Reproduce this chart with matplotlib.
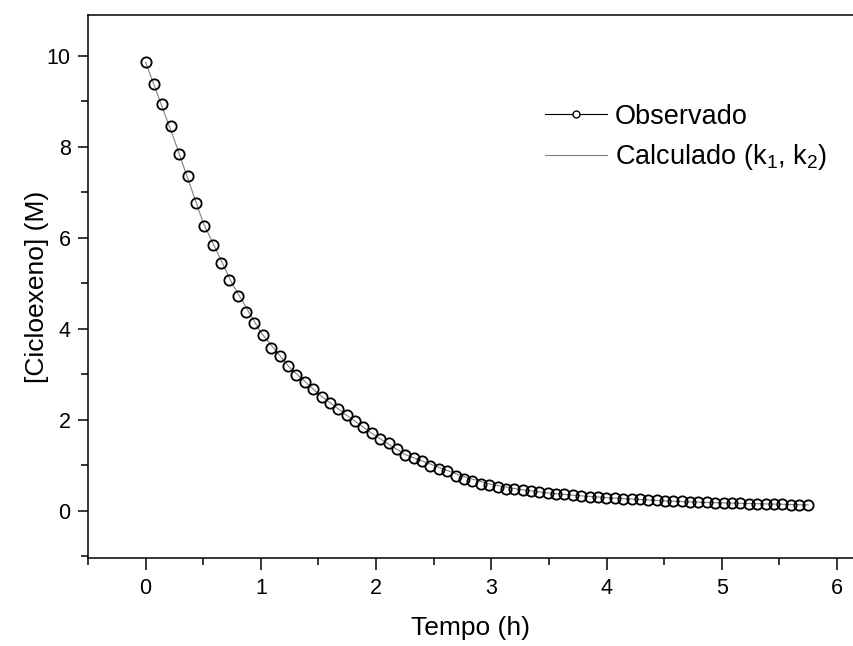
import matplotlib
matplotlib.use("Agg")
import matplotlib.pyplot as plt
from matplotlib.lines import Line2D

plt.rcParams['font.family'] = ['Liberation Sans', 'DejaVu Sans']
plt.rcParams['mathtext.fontset'] = 'custom'
plt.rcParams['mathtext.rm'] = 'Liberation Sans'
plt.rcParams['mathtext.it'] = 'Liberation Sans:italic'

# dados observados (tempo em h, concentracao em M)
tempo_obs = [0.000, 0.073, 0.145, 0.218, 0.291, 0.364, 0.436, 0.509, 0.582, 0.654,
             0.727, 0.800, 0.872, 0.945, 1.018, 1.091, 1.163, 1.236, 1.309, 1.381,
             1.454, 1.527, 1.599, 1.672, 1.745, 1.818, 1.890, 1.963, 2.036, 2.108,
             2.181, 2.254, 2.326, 2.399, 2.472, 2.545, 2.617, 2.690, 2.763, 2.835,
             2.908, 2.981, 3.054, 3.126, 3.199, 3.272, 3.344, 3.417, 3.490, 3.562,
             3.635, 3.708, 3.780, 3.853, 3.926, 3.999, 4.071, 4.144, 4.217, 4.289,
             4.362, 4.435, 4.508, 4.580, 4.653, 4.726, 4.798, 4.871, 4.944, 5.017,
             5.089, 5.162, 5.235, 5.307, 5.380, 5.453, 5.526, 5.598, 5.671, 5.744]
conc_obs = [9.86, 9.39, 8.94, 8.46, 7.85, 7.36, 6.77, 6.27, 5.85, 5.44,
            5.07, 4.73, 4.37, 4.12, 3.86, 3.57, 3.40, 3.18, 2.98, 2.84,
            2.67, 2.51, 2.37, 2.23, 2.10, 1.98, 1.85, 1.70, 1.57, 1.48,
            1.35, 1.22, 1.15, 1.09, 0.98, 0.93, 0.87, 0.76, 0.71, 0.65,
            0.60, 0.56, 0.53, 0.49, 0.47, 0.45, 0.43, 0.41, 0.39, 0.37,
            0.36, 0.34, 0.33, 0.31, 0.30, 0.29, 0.28, 0.27, 0.26, 0.25,
            0.24, 0.23, 0.22, 0.21, 0.205, 0.20, 0.19, 0.185, 0.18, 0.175,
            0.17, 0.165, 0.16, 0.155, 0.15, 0.145, 0.14, 0.135, 0.13, 0.13]

# curva calculada (k1, k2)
tempo_calc = [0.0, 0.25, 0.5, 0.75, 1.0, 1.25, 1.5, 1.75, 2.0, 2.25, 2.5, 2.75,
              3.0, 3.25, 3.5, 3.75, 4.0, 4.25, 4.5, 4.75, 5.0, 5.25, 5.5, 5.75]
conc_calc = [9.86, 8.15, 6.33, 5.00, 3.92, 3.15, 2.57, 2.09, 1.64, 1.24, 1.00, 0.76,
             0.58, 0.47, 0.39, 0.335, 0.29, 0.255, 0.22, 0.195, 0.175, 0.16, 0.145, 0.13]

fig = plt.figure(figsize=(8.54, 6.46), dpi=100)
ax = fig.add_axes([0.103, 0.136, 0.896, 0.841])

ax.plot(tempo_calc, conc_calc, '-', color='#808080', lw=0.8, zorder=3)
ax.plot(tempo_obs, conc_obs, 'o', ms=7.4, mfc='none', mec='black', mew=1.3, zorder=4)

ax.set_xlim(-0.5, 6.14)
ax.set_ylim(-1.04, 10.9)
ax.set_xticks([0, 1, 2, 3, 4, 5, 6])
ax.set_xticks([-0.5, 0.5, 1.5, 2.5, 3.5, 4.5, 5.5], minor=True)
ax.set_yticks([0, 2, 4, 6, 8, 10])
ax.set_yticks([-1, 1, 3, 5, 7, 9], minor=True)

ax.spines['right'].set_visible(False)
for s in ['left', 'bottom', 'top']:
    ax.spines[s].set_linewidth(1.1)
ax.tick_params(axis='x', which='major', direction='out', length=8.5, width=1.1, labelsize=15.5, pad=6)
ax.tick_params(axis='x', which='minor', direction='out', length=5, width=1.1)
ax.tick_params(axis='y', which='major', direction='out', length=7.5, width=1.1, labelsize=15.5, pad=5)
ax.tick_params(axis='y', which='minor', direction='out', length=5, width=1.1)

ax.set_xlabel('Tempo (h)', fontsize=19, labelpad=12)
ax.set_ylabel('[Cicloexeno] (M)', fontsize=19, labelpad=-2)

handles = [Line2D([], [], color='black', lw=0.8, marker='o', ms=5, mfc='white', mec='black', mew=1.0),
           Line2D([], [], color='#808080', lw=0.8)]
labels = ['Observado', 'Calculado (k$_\\mathrm{1}$, k$_\\mathrm{2}$)']
ax.legend(handles, labels, loc='upper left', bbox_to_anchor=(0.597, 0.836), frameon=False,
          fontsize=19.5, handlelength=2.3, handletextpad=0.3, labelspacing=0.45,
          borderpad=0, borderaxespad=0)

fig.savefig('out.png', dpi=100)
